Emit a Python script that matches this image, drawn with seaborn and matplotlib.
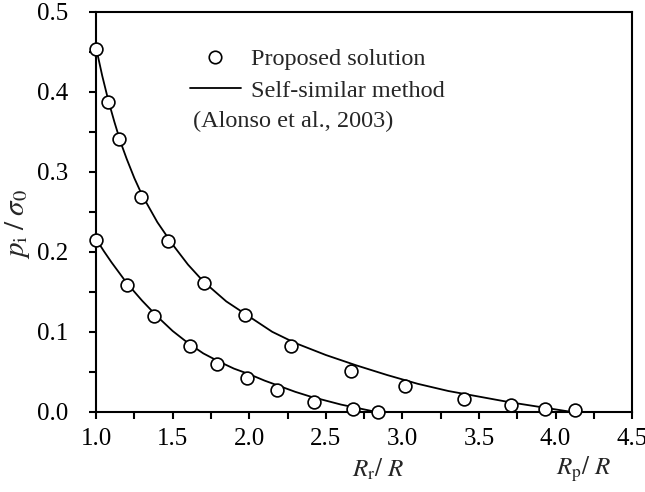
"""
Cavity pressure p_i / sigma_0 versus R/R: proposed solution vs self-similar method
"""

import numpy as np
import pandas as pd
import matplotlib
matplotlib.use("Agg")
import matplotlib.pyplot as plt
from matplotlib.lines import Line2D
from matplotlib.ticker import MultipleLocator
import seaborn as sns

# Proposed solution (points)
upper_pts_x = [1.0, 1.08, 1.15, 1.29, 1.47, 1.705, 1.97, 2.27, 2.665, 3.02, 3.40, 3.71, 3.93, 4.13]
upper_pts_y = [0.454, 0.387, 0.341, 0.268, 0.214, 0.161, 0.121, 0.082, 0.051, 0.032, 0.016, 0.008, 0.004, 0.002]
lower_pts_x = [1.0, 1.20, 1.38, 1.61, 1.79, 1.985, 2.18, 2.42, 2.675, 2.84]
lower_pts_y = [0.215, 0.159, 0.120, 0.082, 0.060, 0.042, 0.027, 0.012, 0.003, 0.0]

# Self-similar method (Alonso et al., 2003)
upper_line_x = [1.0, 1.04, 1.08, 1.12, 1.16, 1.2, 1.25, 1.3, 1.4, 1.5, 1.6, 1.7, 1.85,
                2.0, 2.15, 2.3, 2.5, 2.7, 2.9, 3.1, 3.3, 3.5, 3.7, 3.9, 4.0, 4.1]
upper_line_y = [0.455, 0.420, 0.389, 0.362, 0.337, 0.316, 0.292, 0.271, 0.237, 0.209, 0.184,
                0.163, 0.138, 0.119, 0.100, 0.086, 0.071, 0.058, 0.046, 0.035, 0.026, 0.019,
                0.012, 0.006, 0.003, 0.0]
lower_line_x = [1.0, 1.05, 1.1, 1.2, 1.3, 1.4, 1.5, 1.6, 1.7, 1.8, 1.9, 2.0, 2.1, 2.2,
                2.3, 2.4, 2.5, 2.6, 2.7, 2.8, 2.83]
lower_line_y = [0.216, 0.201, 0.187, 0.161, 0.139, 0.119, 0.101, 0.086, 0.073, 0.063, 0.054,
                0.047, 0.039, 0.032, 0.025, 0.019, 0.014, 0.009, 0.005, 0.001, 0.0]

pts = pd.concat([
    pd.DataFrame({"x": upper_pts_x, "y": upper_pts_y, "case": "Rp"}),
    pd.DataFrame({"x": lower_pts_x, "y": lower_pts_y, "case": "Rr"}),
])
lines = pd.concat([
    pd.DataFrame({"x": upper_line_x, "y": upper_line_y, "case": "Rp"}),
    pd.DataFrame({"x": lower_line_x, "y": lower_line_y, "case": "Rr"}),
])

sns.set_theme(style="ticks")
plt.rcParams["font.family"] = ["Liberation Serif", "DejaVu Serif"]
plt.rcParams["mathtext.fontset"] = "stix"

fig = plt.figure(figsize=(6.45, 4.92), dpi=100)
ax = fig.add_axes([0.149, 0.163, 0.831, 0.813])

sns.lineplot(data=lines, x="x", y="y", units="case", estimator=None, sort=False,
             color="black", linewidth=1.3, ax=ax, legend=False)
sns.scatterplot(data=pts, x="x", y="y", marker="o", s=85, facecolor="white",
                edgecolor="black", linewidth=1.2, ax=ax, legend=False, zorder=3,
                clip_on=False)

ax.set_xlim(1.0, 4.5)
ax.set_ylim(0.0, 0.5)
ax.xaxis.set_major_locator(MultipleLocator(0.5))
ax.xaxis.set_minor_locator(MultipleLocator(0.25))
ax.yaxis.set_major_locator(MultipleLocator(0.1))
ax.yaxis.set_minor_locator(MultipleLocator(0.05))
ax.xaxis.set_major_formatter(lambda v, p: f"{v:.1f}")
ax.yaxis.set_major_formatter(lambda v, p: f"{v:.1f}")
ax.tick_params(which="both", direction="out", width=1.5, length=5, color="black",
               labelsize=18, labelcolor="black")
ax.tick_params(axis="x", which="major", pad=7)
ax.tick_params(axis="y", which="major", pad=15)
for sp in ax.spines.values():
    sp.set_linewidth(1.5)
    sp.set_color("black")

ax.set_xlabel("")
ax.set_ylabel("")
fig.text(0.027, 0.545, r"$p_{\mathrm{i}}\;/\;\sigma_0$", rotation=90, fontsize=21,
         ha="center", va="center")

# x-axis labels placed below the two end points
trans = ax.get_xaxis_transform()
ax.text(2.84, -0.145, r"$R_{\mathrm{r}}/\ R$", transform=trans, ha="center", va="center",
        fontsize=18)
ax.text(4.18, -0.145, r"$R_{\mathrm{p}}/\ R$", transform=trans, ha="center", va="center",
        fontsize=18)

handles = [
    Line2D([], [], marker="o", linestyle="none", markersize=9, markerfacecolor="white",
           markeredgecolor="black", markeredgewidth=1.2),
    Line2D([], [], color="black", linewidth=1.3),
]
ax.legend(handles, ["Proposed solution", "Self-similar method"], loc="upper left",
          bbox_to_anchor=(0.175, 0.909), frameon=False, fontsize=17.5, handlelength=2.1,
          handletextpad=0.4, labelspacing=0.4, borderpad=0, borderaxespad=0)
ax.text(0.181, 0.727, "(Alonso et al., 2003)", transform=ax.transAxes, fontsize=17.5,
        ha="left", va="center")

fig.savefig("out.png", dpi=100)
